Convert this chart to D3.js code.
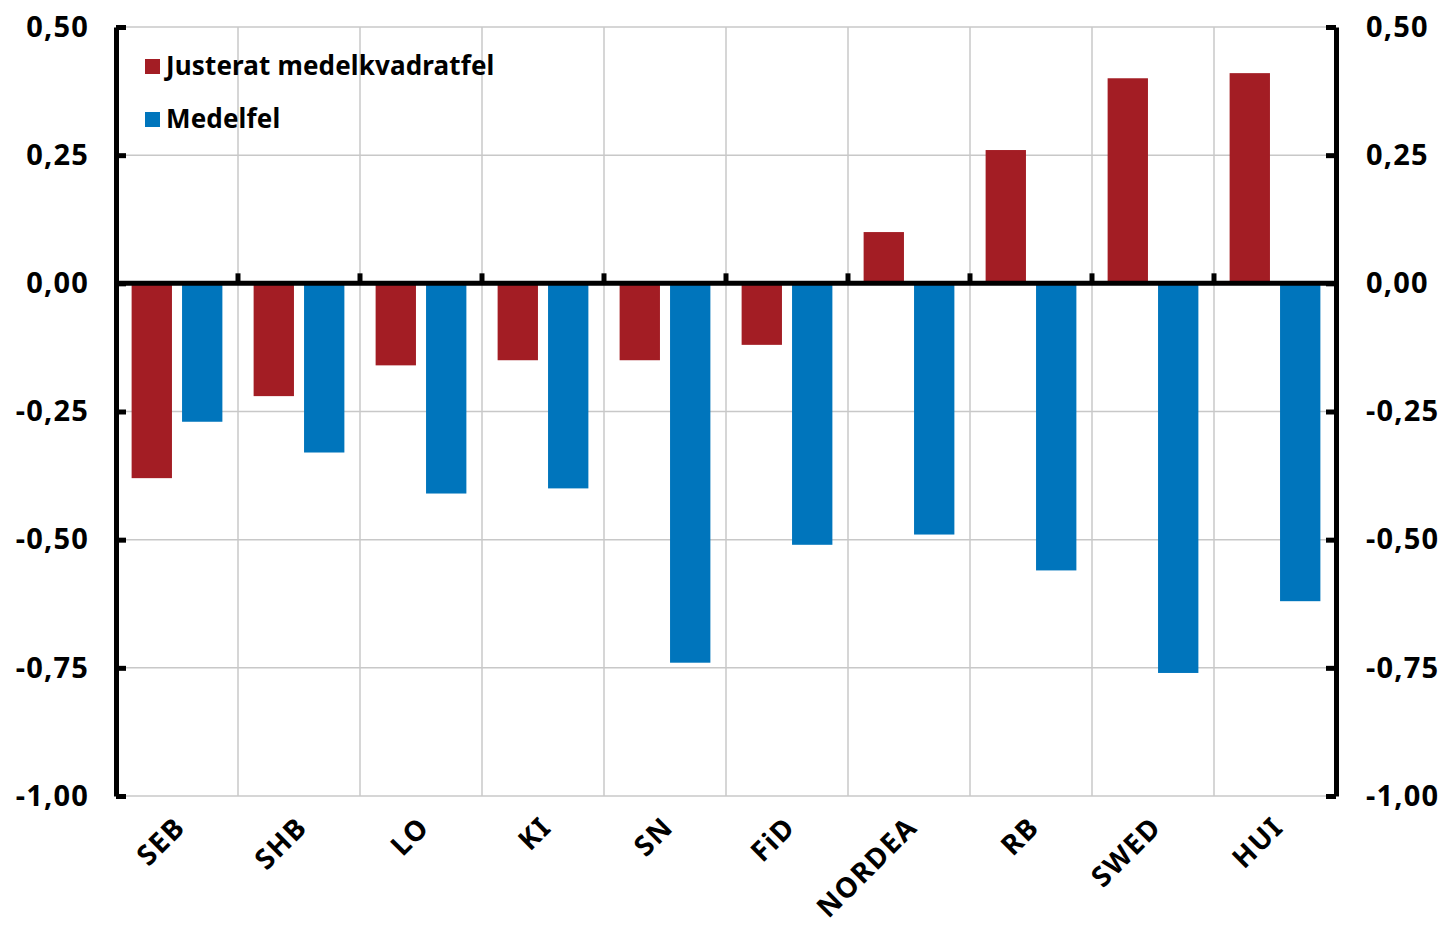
<!DOCTYPE html>
<html><head><meta charset="utf-8">
<script src="https://cdn.jsdelivr.net/npm/d3@7"></script>
<style>
html,body{margin:0;padding:0;background:#fff;}
svg text{font-family:"Noto Sans",sans-serif;font-weight:bold;fill:#000;}
</style></head>
<body>
<svg id="c" width="1443" height="929"></svg>
<script>
const categories = ["SEB","SHB","LO","KI","SN","FiD","NORDEA","RB","SWED","HUI"];
const seriesNames = ["Justerat medelkvadratfel","Medelfel"];
const justerat = [-0.38,-0.22,-0.16,-0.15,-0.15,-0.12,0.10,0.26,0.40,0.41];
const medelfel = [-0.27,-0.33,-0.41,-0.40,-0.74,-0.51,-0.49,-0.56,-0.76,-0.62];
const colors = ["#a31d24","#0075bc"];
const yTicks = [0.5,0.25,0,-0.25,-0.5,-0.75,-1.0];

const svg = d3.select("#c");
const L = 116, R = 1336, T = 27, B = 796;
const x = d3.scaleBand().domain(categories).range([L,R]).padding(0);
const bw = x.bandwidth();
const x1 = d3.scaleBand().domain(seriesNames).range([bw*0.128, bw*0.872]).paddingInner(0.2);
const y = d3.scaleLinear().domain([-1,0.5]).range([B,T]);
const fmt = d => d3.format(".2f")(d).replace(".",",").replace("−","-");
const grid = "#c8c8c8";

// horizontal grid
svg.append("g").selectAll("line").data(yTicks).join("line")
  .attr("x1",L).attr("x2",R).attr("y1",d=>y(d)).attr("y2",d=>y(d))
  .attr("stroke",grid).attr("stroke-width",1.5);
// vertical grid
svg.append("g").selectAll("line").data(categories.slice(1)).join("line")
  .attr("x1",d=>x(d)).attr("x2",d=>x(d)).attr("y1",T).attr("y2",B)
  .attr("stroke",grid).attr("stroke-width",1.5);

// bars
const data = [justerat, medelfel];
data.forEach((vals,si)=>{
  svg.append("g").selectAll("rect").data(vals).join("rect")
    .attr("x",(d,i)=>x(categories[i]) + x1(seriesNames[si]))
    .attr("width",x1.bandwidth())
    .attr("y",d=>Math.min(y(d),y(0)))
    .attr("height",d=>Math.abs(y(d)-y(0)))
    .attr("fill",colors[si]);
});

// zero line with up ticks
svg.append("line").attr("x1",L).attr("x2",R).attr("y1",y(0)).attr("y2",y(0))
  .attr("stroke","#000").attr("stroke-width",5);
svg.append("g").selectAll("line").data(categories.slice(1)).join("line")
  .attr("x1",d=>x(d)).attr("x2",d=>x(d)).attr("y1",y(0)).attr("y2",y(0)-10)
  .attr("stroke","#000").attr("stroke-width",5);

// axes
const axL = d3.axisLeft(y).tickValues(yTicks).tickSize(-10).tickSizeOuter(0).tickPadding(27).tickFormat(fmt);
const gL = svg.append("g").attr("transform",`translate(${L},0)`).call(axL);
const axR = d3.axisRight(y).tickValues(yTicks).tickSize(-10).tickSizeOuter(0).tickPadding(30).tickFormat(fmt);
const gR = svg.append("g").attr("transform",`translate(${R},0)`).call(axR);
[gL,gR].forEach(g=>{
  g.select(".domain").attr("stroke","#000").attr("stroke-width",5);
  g.selectAll(".tick line").attr("stroke","#000").attr("stroke-width",5);
  g.selectAll(".tick text").attr("font-size",29).attr("letter-spacing",1.2)
    .attr("font-family","Noto Sans").attr("font-weight","bold").attr("fill","#000");
});

// category labels
svg.append("g").selectAll("text").data(categories).join("text")
  .attr("transform",d=>`translate(${x(d)+bw/2+3},${822}) rotate(-45)`)
  .attr("text-anchor","end").attr("dy","0.35em")
  .attr("font-size",28).attr("letter-spacing",1.5).text(d=>d);

// legend
const lg = svg.append("g");
seriesNames.forEach((s,i)=>{
  lg.append("rect").attr("x",145).attr("y",59+i*53).attr("width",15).attr("height",15).attr("fill",colors[i]);
  lg.append("text").attr("x",166).attr("y",75+i*53).attr("font-size",26).attr("letter-spacing",0.15).text(s);
});
</script>
</body></html>
